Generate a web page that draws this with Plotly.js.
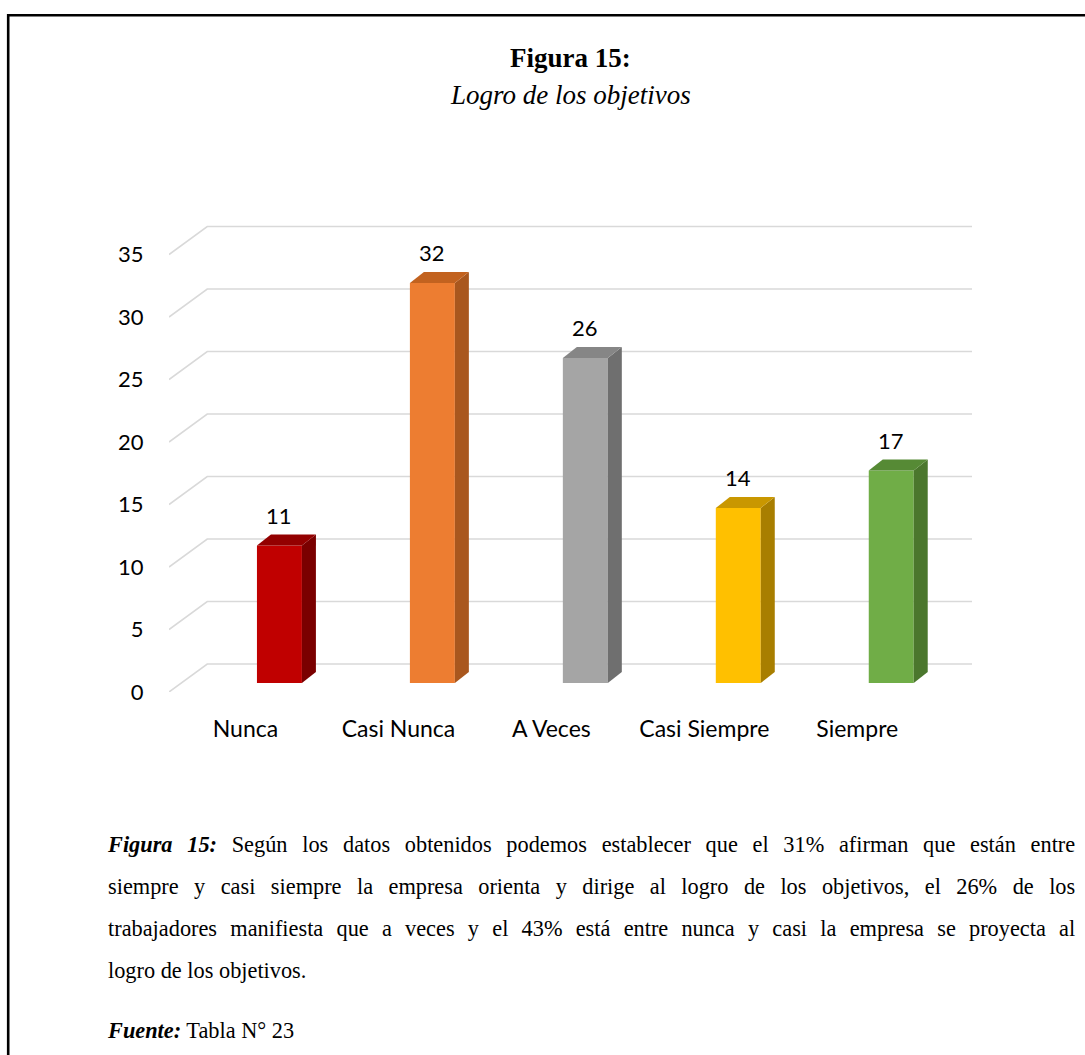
<!DOCTYPE html>
<html>
<head>
<meta charset="utf-8">
<script src="https://cdn.plot.ly/plotly-3.0.1.min.js"></script>
<style>
  html, body { margin: 0; padding: 0; background: #fff; }
  #wrap { position: relative; width: 1085px; height: 1055px; overflow: hidden; }
  #chart { position: absolute; left: 0; top: 0; width: 1085px; height: 1055px; }
  #caption {
    position: absolute; left: 108px; top: 823px; width: 1040px;
    transform: scaleX(0.93); transform-origin: 0 0;
    font-family: "Liberation Serif", "Times New Roman", serif; font-size: 24px;
    line-height: 42px; color: #000;
  }
  #caption .j { text-align: justify; text-align-last: justify; white-space: nowrap; }
  #caption .src { margin-top: 18px; }
</style>
</head>
<body>
<div id="wrap">
  <div id="chart"></div>
  <div id="caption">
    <div class="j"><b><i>Figura 15:</i></b> Según los datos obtenidos podemos establecer que el 31% afirman que están entre</div>
    <div class="j">siempre y casi siempre la empresa orienta y dirige al logro de los objetivos, el 26% de los</div>
    <div class="j">trabajadores manifiesta que a veces y el 43% está entre nunca y casi la empresa se proyecta al</div>
    <div>logro de los objetivos.</div>
    <div class="src"><b><i>Fuente:</i></b> Tabla N° 23</div>
  </div>
</div>
<script>
// Responses per category
const categories = ['Nunca', 'Casi Nunca', 'A Veces', 'Casi Siempre', 'Siempre'];
const values = [11, 32, 26, 14, 17];
const yTicks = [0, 5, 10, 15, 20, 25, 30, 35];

// Face colours: front, right side, top
const frontColors = ['#C00000', '#ED7D31', '#A5A5A5', '#FFC000', '#70AD47'];
const sideColors  = ['#7A0000', '#A9571E', '#6F6F6F', '#A87E00', '#4B772D'];
const topColors   = ['#930000', '#C2621F', '#868686', '#C99700', '#568A35'];

// Oblique projection of the floor / back wall (in axis units)
const FLOOR_DX = 0.25;   // category units
const FLOOR_DY = 2.24;   // value units
// Bar placement inside the depth
const BAR_Y0 = 0.72;
const BAR_DX = 0.222;
const BAR_W = 0.294;
const SIDE_DX = 0.0915;
const SIDE_DY = 0.88;

const idx = categories.map((_, i) => i);
const traces = [];

// Back-wall gridlines with the receding floor segment at the left
const gx = [], gy = [];
yTicks.forEach(t => {
  gx.push(-0.5, -0.5 + FLOOR_DX, categories.length - 0.5 + FLOOR_DX, null);
  gy.push(t, t + FLOOR_DY, t + FLOOR_DY, null);
});
traces.push({
  type: 'scatter', mode: 'lines', x: gx, y: gy,
  line: { color: '#D9D9D9', width: 1.6 }, hoverinfo: 'skip', showlegend: false
});

// Columns live on an overlaid pair of axes so they sit above the gridlines
traces.push({
  type: 'bar', x: idx.map(i => i + BAR_DX), y: values, base: BAR_Y0, width: BAR_W,
  xaxis: 'x2', yaxis: 'y2',
  marker: { color: frontColors, line: { width: 0 } },
  hoverinfo: 'skip', showlegend: false
});

// Side and top faces
idx.forEach(i => {
  const v = values[i];
  const xl = i + BAR_DX - BAR_W / 2;
  const xr = i + BAR_DX + BAR_W / 2;
  const b = BAR_Y0, t = BAR_Y0 + v;
  traces.push({
    type: 'scatter', mode: 'none', fill: 'toself', fillcolor: sideColors[i],
    xaxis: 'x2', yaxis: 'y2',
    x: [xr, xr + SIDE_DX, xr + SIDE_DX, xr, xr],
    y: [b, b + SIDE_DY, t + SIDE_DY, t, b],
    hoverinfo: 'skip', showlegend: false
  });
  traces.push({
    type: 'scatter', mode: 'none', fill: 'toself', fillcolor: topColors[i],
    xaxis: 'x2', yaxis: 'y2',
    x: [xl, xr, xr + SIDE_DX, xl + SIDE_DX, xl],
    y: [t, t, t + SIDE_DY, t + SIDE_DY, t],
    hoverinfo: 'skip', showlegend: false
  });
});

// Plot-area pixel frame, used to place the page furniture
const L = 169, R = 113, T = 217, B = 363;
const W = 1085, H = 1055;
const pw = W - L - R, ph = H - T - B;
const px = x => (x - L) / pw;
const py = y => (H - B - y) / ph;

const labelFamily = 'Lato, "Open Sans", sans-serif';
const tickFont = { family: labelFamily, size: 22, color: '#000' };
const catFont = { family: labelFamily, size: 23, color: '#000' };
const valueFont = { family: labelFamily, size: 22, color: '#000' };

const xRange = [-0.5, categories.length - 0.5 + FLOOR_DX];
const yRange = [0, 38];

const annotations = idx.map(i => ({
  x: i + BAR_DX, y: BAR_Y0 + values[i] + SIDE_DY, xref: 'x', yref: 'y',
  text: String(values[i]), showarrow: false, yanchor: 'bottom', yshift: 4,
  font: valueFont
}));

const titleFont = { family: '"Liberation Serif", "Times New Roman", serif', size: 27, color: '#000' };
annotations.push({
  xref: 'paper', yref: 'paper', x: px(570), y: py(58), xanchor: 'center', yanchor: 'middle',
  text: '<b>Figura 15:</b>', showarrow: false, font: titleFont
});
annotations.push({
  xref: 'paper', yref: 'paper', x: px(570), y: py(95), xanchor: 'center', yanchor: 'middle',
  text: '<i>Logro de los objetivos</i>', showarrow: false, font: titleFont
});

const hiddenAxis = (overlay) => ({
  overlaying: overlay, visible: false, showgrid: false, zeroline: false, fixedrange: true
});

const layout = {
  width: W, height: H,
  margin: { l: L, r: R, t: T, b: B },
  paper_bgcolor: '#fff', plot_bgcolor: 'rgba(0,0,0,0)',
  showlegend: false,
  xaxis: {
    range: xRange,
    tickvals: idx, ticktext: categories,
    showgrid: false, zeroline: false, showline: false,
    ticks: 'outside', ticklen: 16, tickcolor: 'rgba(0,0,0,0)',
    tickfont: catFont, fixedrange: true
  },
  yaxis: {
    range: yRange,
    tickvals: yTicks, ticktext: yTicks.map(String),
    showgrid: false, zeroline: false, showline: false,
    ticks: 'outside', ticklen: 20, tickcolor: 'rgba(0,0,0,0)',
    tickfont: tickFont, fixedrange: true
  },
  xaxis2: Object.assign({ range: xRange }, hiddenAxis('x')),
  yaxis2: Object.assign({ range: yRange }, hiddenAxis('y')),
  shapes: [{
    type: 'path', xref: 'paper', yref: 'paper', layer: 'above',
    path: 'M ' + px(8.2) + ' ' + py(1070) + ' L ' + px(8.2) + ' ' + py(15.3) + ' L ' + px(1100) + ' ' + py(15.3),
    line: { color: '#000', width: 2.6 }
  }],
  annotations: annotations
};

Plotly.newPlot('chart', traces, layout, { staticPlot: true, displayModeBar: false });
</script>
</body>
</html>
